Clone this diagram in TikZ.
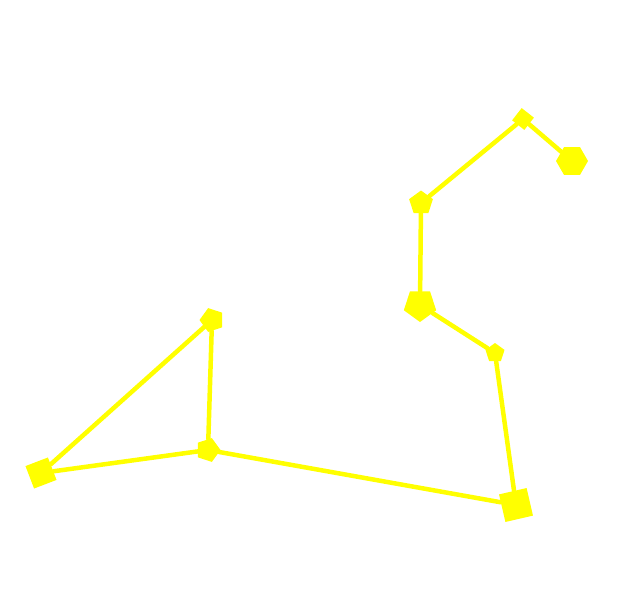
\documentclass[tikz,border=0pt]{standalone}
\usetikzlibrary{shapes.geometric}
\definecolor{staryellow}{RGB}{255,255,0}
\begin{document}
\begin{tikzpicture}[x=1pt, y=-1pt, line cap=round, line join=round,
    vertex/.style={regular polygon, fill=staryellow, draw=none, inner sep=0pt},
    link/.style={staryellow, line width=4.5pt}]
        \useasboundingbox (0,0) rectangle (620,613);
        % stars
        \node[vertex, regular polygon sides=6, minimum size=32pt] (p1) at (572,161) {};
        \node[vertex, regular polygon sides=4, minimum size=22pt, rotate=52] (p2) at (523,119) {};
        \node[vertex, regular polygon sides=5, minimum size=25pt] (p3) at (421,203) {};
        \node[vertex, regular polygon sides=5, minimum size=34pt, rotate=180] (p4) at (420,305) {};
        \node[vertex, regular polygon sides=5, minimum size=20pt] (p5) at (495,353) {};
        \node[vertex, regular polygon sides=4, minimum size=40pt, rotate=13] (p6) at (516,505) {};
        \node[vertex, regular polygon sides=5, minimum size=25pt, rotate=-90] (p7) at (208,450) {};
        \node[vertex, regular polygon sides=4, minimum size=34pt, rotate=21] (p8) at (41,473) {};
        \node[vertex, regular polygon sides=5, minimum size=25pt, rotate=90] (p9) at (212,320) {};
        % lines
        \draw[link] (p1) -- (p2);
        \draw[link] (p2) -- (p3);
        \draw[link] (p3) -- (p4);
        \draw[link] (p4) -- (p5);
        \draw[link] (p5) -- (p6);
        \draw[link] (p6) -- (p7);
        \draw[link] (p7) -- (p8);
        \draw[link] (p8) -- (p9);
        \draw[link] (p9) -- (p7);
\end{tikzpicture}
\end{document}
